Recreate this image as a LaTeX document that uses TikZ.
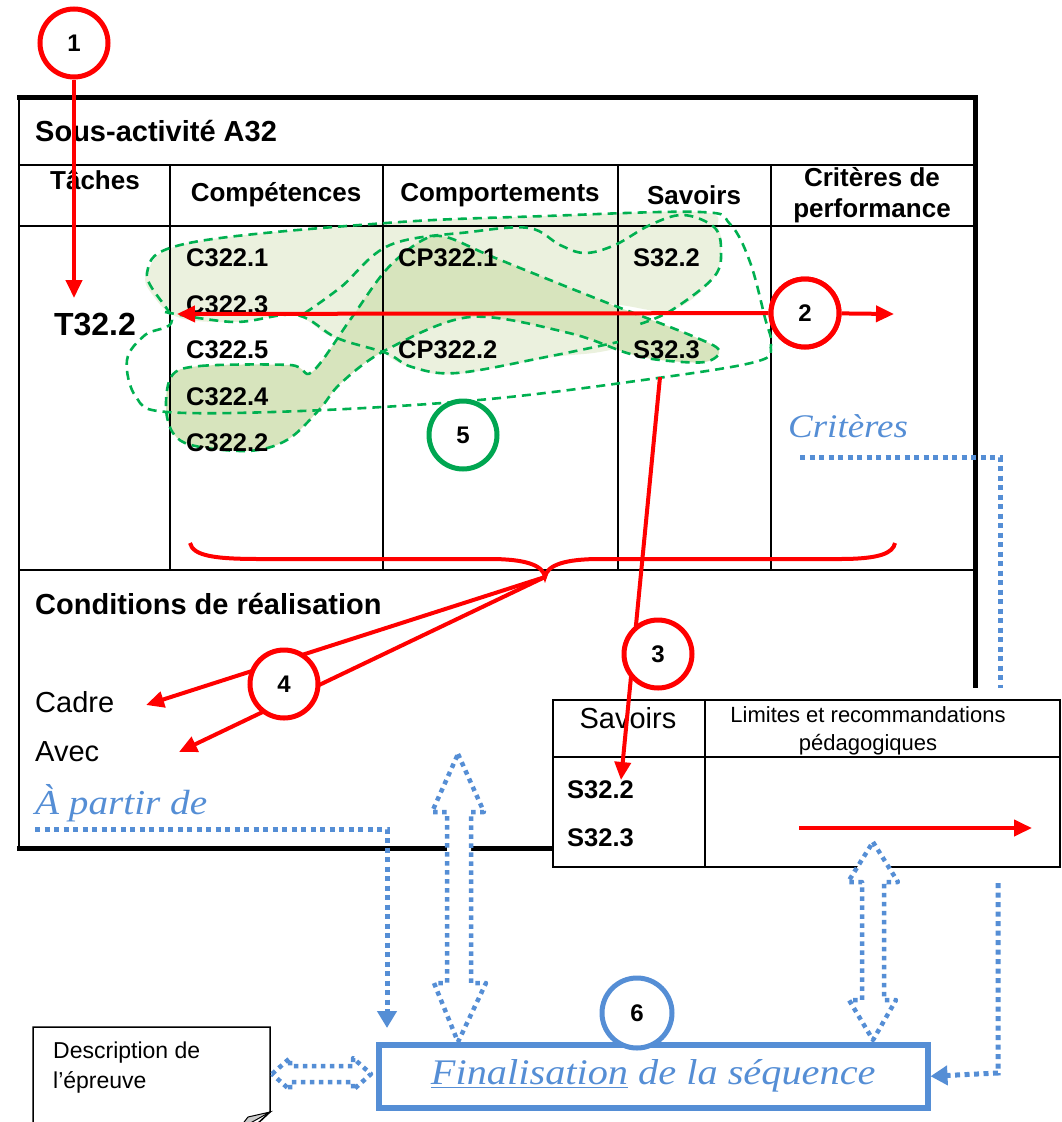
\documentclass[tikz,border=0pt]{standalone}
\usepackage{fontspec}
\setmainfont{Liberation Sans}
\newfontfamily\scriptf[FakeStretch=1.12]{Liberation Serif}
\usetikzlibrary{arrows.meta,calc}
\definecolor{gline}{HTML}{00B050}
\definecolor{glight}{HTML}{EBF1DE}
\definecolor{gdark}{HTML}{D7E4BD}
\definecolor{bl}{HTML}{558ED5}
\definecolor{rd}{HTML}{FF0000}
\definecolor{gc}{HTML}{00A651}
\begin{document}
\begin{tikzpicture}[x=1pt,y=-1pt,
  ttl/.style={font=\bfseries\fontsize{29}{34}\selectfont, anchor=west, inner sep=0},
  hdr/.style={font=\bfseries\fontsize{26}{31}\selectfont, align=center, inner sep=0},
  itm/.style={font=\bfseries\fontsize{25.5}{30}\selectfont, anchor=west, inner sep=0},
  normtxt/.style={font=\fontsize{29}{34}\selectfont, anchor=west, inner sep=0},
  scr/.style={font=\scriptf\itshape\fontsize{35}{40}\selectfont, text=bl, inner sep=0},
  redc/.style={circle, draw=rd, line width=5pt, fill=white, minimum size=68pt, inner sep=0, font=\bfseries\fontsize{24}{24}\selectfont},
  grc/.style={redc, draw=gc},
  blc/.style={redc, draw=bl, minimum size=70pt},
  redarr/.style={draw=rd, line width=4pt, -{Triangle[length=18pt,width=16pt]}},
  redln/.style={draw=rd, line width=4pt},
  gdash/.style={draw=gline, line width=2.6pt, dash pattern=on 9pt off 6pt},
  bdot/.style={draw=bl, line width=5pt, dash pattern=on 5pt off 4.5pt},
  bdotarr/.style={bdot, -{Triangle[length=17pt,width=19pt]}},
  hollow/.style={draw=bl, fill=white, line width=4.5pt, dash pattern=on 4.5pt off 4.5pt, line join=round},
  tline/.style={line width=1.6pt},
  bline/.style={line width=5pt}
]
\useasboundingbox (0,0) rectangle (1062,1122);
\clip (0,0) rectangle (1062,1122);

% ---- green fills
\fill[glight] plot[smooth cycle, tension=0.6] coordinates {(147,273) (189,243) (386,223) (546,216) (700,212) (718,228) (721,252) (712,280) (672,310) (620,305) (540,295) (460,305) (400,330) (337,338) (296,316) (234,322) (180,318) (155,298)};
\fill[glight] plot[smooth cycle, tension=0.6] coordinates {(386,350) (420,325) (500,312) (570,330) (625,343) (600,352) (546,358) (457,374) (412,368)};
\fill[gdark] plot[smooth cycle, tension=0.55] coordinates {(171,377) (200,366) (290,365) (312,372) (350,320) (386,270) (421,241) (446,237) (493,257) (600,300) (690,335) (719,350) (705,362) (660,360) (627,353) (569,333) (470,317) (386,350) (341,383) (319,410) (287,440) (247,451) (185,443) (167,417)};

% ---- upper table
\draw[tline] (19,97) -- (19,848);
\draw[tline] (19,165) -- (975,165);
\draw[tline] (19,226) -- (975,226);
\draw[tline] (19,570) -- (975,570);
\foreach \cx in {170,383,618,771} \draw[tline] (\cx,165) -- (\cx,570);
\draw[bline] (17,97) -- (977,97);
\draw[bline] (975,95) -- (975,688);
\draw[bline] (17,848) -- (553,848);

% ---- green dashed outlines
\draw[gdash] plot[smooth cycle, tension=0.55] coordinates {(171,377) (200,366) (290,365) (312,372) (350,320) (386,270) (421,241) (446,237) (493,257) (600,300) (690,335) (719,350) (705,362) (660,360) (627,353) (569,333) (470,317) (386,350) (341,383) (319,410) (287,440) (247,451) (185,443) (167,417)};
\draw[gdash] plot[smooth cycle, tension=0.6] coordinates {(147,273) (189,243) (386,223) (546,216) (700,212) (730,224) (750,262) (765,318) (771,345) (755,362) (636,381) (479,400) (301,411) (167,412) (136,397) (127,360) (145,335) (172,320)};
\draw[gdash] plot[smooth, tension=0.6] coordinates {(305,313) (341,287) (390,245) (470,232) (529,228) (560,245) (585,253) (615,245) (650,225) (683,215) (714,227) (721,250) (714,277) (672,310) (640,324)};
\draw[gdash] plot[smooth, tension=0.6] coordinates {(165,312) (234,322) (296,315) (337,338) (386,353) (412,367) (457,373) (546,357) (618,342)};

% ---- table texts
\node[ttl] (title) at (35,131) {Sous-activité A32};
\node[hdr] (hT) at (95,180) {Tâches};
\node[hdr] (hC) at (276,195) {Compétences};
\node[hdr] (hCP) at (500,195) {Comportements};
\node[hdr] (hS) at (694,195) {Savoirs};
\node[hdr] (hCr) at (872,195) {Critères de\\performance};
\node[font=\bfseries\fontsize{32}{36}\selectfont, inner sep=0] (t322) at (95,325) {T32.2};
\node[itm] (c3221) at (186,258) {C322.1};
\node[itm] (c3223) at (186,305) {C322.3};
\node[itm] (c3225) at (186,350) {C322.5};
\node[itm] (c3224) at (186,397) {C322.4};
\node[itm] (c3222) at (186,443) {C322.2};
\node[itm] (cp3221) at (398,258) {CP322.1};
\node[itm] (cp3222) at (398,350) {CP322.2};
\node[itm] (s322) at (633,258) {S32.2};
\node[itm] (s323) at (633,350) {S32.3};

\node[ttl] (cond) at (35,604) {Conditions de réalisation};
\node[normtxt] (cadre) at (35,702) {Cadre};
\node[normtxt] (avec) at (35,752) {Avec};
\node[scr, anchor=west] (apartir) at (35,803) {À partir de};
\node[scr, anchor=west, font=\scriptf\itshape\fontsize{33}{36}\selectfont] (crit) at (788,426) {Critères};

% ---- lower table
\draw[line width=2.4pt] (553,700) rectangle (1060,867);
\draw[line width=2.4pt] (705,700) -- (705,867);
\draw[line width=2.4pt] (553,757) -- (1060,757);
\node[font=\fontsize{29}{34}\selectfont, inner sep=0] (lsav) at (628,718) {Savoirs};
\node[font=\fontsize{22}{28}\selectfont, align=center, inner sep=0] (llim) at (868,731) {Limites et recommandations\\pédagogiques};
\node[itm] (ls322) at (567,790) {S32.2};
\node[itm] (ls323) at (567,838) {S32.3};

% ---- coordinates
\coordinate (t1tip) at (74,298);
\coordinate (c2L) at (177,314);
\coordinate (c2R) at (894,314);
\coordinate (l3s) at (660,377);
\coordinate (t3tip) at (621,780);
\coordinate (brT) at (545,577);
\coordinate (cadreTip) at (146,705);
\coordinate (avecTip) at (179,752);
\coordinate (lrS) at (799,828);
\coordinate (lrE) at (1032,828);
\coordinate (critA) at (800,457);
\coordinate (critB) at (1000,457);
\coordinate (critC) at (1000,688);
\coordinate (apA) at (35,829);
\coordinate (apB) at (387,829);
\coordinate (apC) at (387,1028);
\coordinate (rgA) at (998,883);
\coordinate (rgB) at (998,1073);

% ---- red brace
\draw[redln] (190,543) .. controls (193,556) and (215,559) .. (260,559) -- (490,559) .. controls (525,559) and (543,565) .. (brT) .. controls (547,565) and (565,559) .. (600,559) -- (840,559) .. controls (880,559) and (893,553) .. (895,543);

% ---- red connectors
\node[redc] (c1) at (74,43) {1};
\node[redc] (c2) at (805,313) {2};
\draw[redarr] (c1) -- (t1tip);
\draw[redarr] (c2) -- (c2L);
\draw[redarr] (c2) -- (c2R);
\draw[redarr] (l3s) -- (t3tip);
\draw[redarr] (brT) -- (cadreTip);
\draw[redarr] (brT) -- (avecTip);
\draw[redarr] (lrS) -- (lrE);
\node[redc] at (c2) {2};
\node[redc] (c3) at (658,654) {3};
\node[redc] (c4) at (284,684) {4};
\node[grc] (c5) at (463,435) {5};

% ---- bottom part
\node[draw=bl, line width=5.5pt, minimum width=549pt, minimum height=63pt, anchor=north west, font=\scriptf\itshape\fontsize{36}{40}\selectfont, text=bl] (fin) at (376,1042) {\underline{Finalisation} de la séquence};
\node[blc] (c6) at (637,1013) {6};

\draw[line width=1.5pt] (33,1140) -- (33,1027) -- (270,1027) -- (270,1112) -- (240,1140);
\filldraw[fill=gray!40, line width=1pt] (270,1112) -- (248,1117) -- (238,1130) -- cycle;
\node[font=\fontsize{23}{30}\selectfont, align=left, anchor=north west, inner sep=0] (desc) at (53,1042) {Description de\\l’épreuve};

% ---- blue dotted connectors
\draw[bdot] (critA) -- (critB) -- (critC);
\draw[bdotarr] (apA) -- (apB) -- (apC);
\draw[bdotarr] (rgA) -- (rgB) -- (fin.east);

% ---- hollow double arrows
\draw[hollow] (458,754) -- (484,812) -- (471,812) -- (471,983) -- (486,983) -- (458,1042) -- (434,983) -- (447,983) -- (447,812) -- (432,812) -- cycle;
\draw[hollow] (873,842) -- (898,882) -- (884,882) -- (884,1000) -- (896,1000) -- (873,1040) -- (849,1000) -- (862,1000) -- (862,882) -- (848,882) -- cycle;
\draw[hollow] (272,1074) -- (290,1058) -- (290,1066) -- (353,1066) -- (353,1058) -- (371,1074) -- (353,1090) -- (353,1082) -- (290,1082) -- (290,1090) -- cycle;
\end{tikzpicture}
\end{document}
